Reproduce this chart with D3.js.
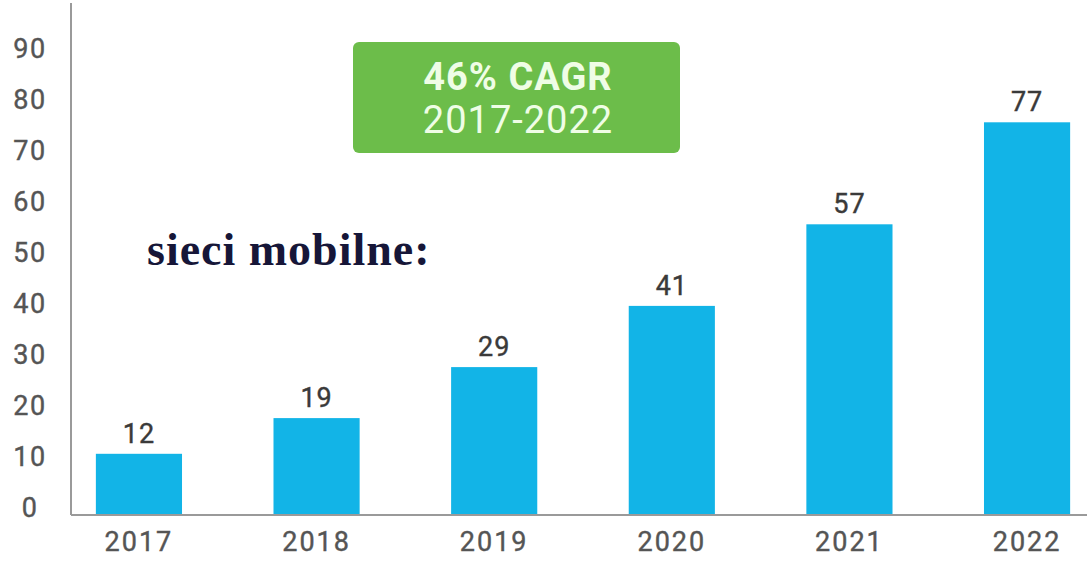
<!DOCTYPE html>
<html>
<head>
<meta charset="utf-8">
<script src="https://cdn.jsdelivr.net/npm/d3@7"></script>
<style>
  html, body { margin: 0; padding: 0; background: #fff; }
  svg { display: block; }
</style>
</head>
<body>
<svg id="chart" width="1087" height="562"></svg>
<script>
// Mobile network traffic by year
const years = ["2017", "2018", "2019", "2020", "2021", "2022"];
const values = [12, 19, 29, 41, 57, 77];
const yTicks = [0, 10, 20, 30, 40, 50, 60, 70, 80, 90];
const badgeLines = ["46% CAGR", "2017-2022"];
const seriesTitle = "sieci mobilne:";

const svg = d3.select("#chart");
const W = 1087, H = 562;
const axisX = 71, baseY = 515;

const x = d3.scaleBand()
  .domain(years)
  .range([axisX, 1095])
  .paddingInner(0.515)
  .paddingOuter(0.14);

const y = d3.scaleLinear()
  .domain([0, 90])
  .range([baseY, 56]);

const font = "Roboto, 'Open Sans', sans-serif";

// bars
svg.append("g").selectAll("rect")
  .data(values)
  .join("rect")
  .attr("x", (d, i) => x(years[i]))
  .attr("y", d => y(d))
  .attr("width", x.bandwidth())
  .attr("height", d => baseY - y(d))
  .attr("fill", "#12b4e7");

// value labels
svg.append("g").selectAll("text")
  .data(values)
  .join("text")
  .attr("x", (d, i) => x(years[i]) + x.bandwidth() / 2)
  .attr("y", d => y(d) - 11)
  .attr("text-anchor", "middle")
  .attr("font-family", font)
  .attr("font-size", 27)
  .attr("letter-spacing", 1)
  .attr("stroke", "#3a3a3a")
  .attr("stroke-width", 0.4)
  .attr("fill", "#3a3a3a")
  .text(d => d);

// y axis
const yAxis = d3.axisLeft(y).tickValues(yTicks).tickSize(0).tickPadding(0);
const gy = svg.append("g").attr("transform", `translate(${axisX},0)`).call(yAxis);
gy.select(".domain").remove();
gy.selectAll("text")
  .attr("x", -41)
  .attr("dy", "0.32em")
  .attr("transform", "translate(0,-7)")
  .attr("text-anchor", "middle")
  .attr("font-family", font)
  .attr("font-size", 27)
  .attr("letter-spacing", 1.5)
  .attr("stroke", "#555")
  .attr("stroke-width", 0.4)
  .attr("fill", "#555");
gy.append("line")
  .attr("x1", 0).attr("x2", 0)
  .attr("y1", 3).attr("y2", baseY)
  .attr("stroke", "#9a9a9a").attr("stroke-width", 2);

// x axis
const xAxis = d3.axisBottom(x).tickSize(0).tickPadding(0);
const gx = svg.append("g").attr("transform", `translate(0,${baseY})`).call(xAxis);
gx.select(".domain").remove();
gx.selectAll("text")
  .attr("y", 36)
  .attr("dy", 0)
  .attr("font-family", font)
  .attr("font-size", 27)
  .attr("letter-spacing", 2)
  .attr("stroke", "#555")
  .attr("stroke-width", 0.4)
  .attr("fill", "#555");
gx.append("line")
  .attr("x1", axisX).attr("x2", W)
  .attr("y1", 0).attr("y2", 0)
  .attr("stroke", "#9a9a9a").attr("stroke-width", 2);

// CAGR badge
const badge = svg.append("g");
badge.append("rect")
  .attr("x", 353).attr("y", 42)
  .attr("width", 327).attr("height", 111)
  .attr("rx", 6)
  .attr("fill", "#6cbd4a");
badge.selectAll("text")
  .data(badgeLines)
  .join("text")
  .attr("x", 518)
  .attr("y", (d, i) => i === 0 ? 90 : 133)
  .attr("text-anchor", "middle")
  .attr("font-family", font)
  .attr("font-size", 38)
  .attr("font-weight", (d, i) => i === 0 ? 700 : 400)
  .attr("letter-spacing", 1)
  .attr("fill", "#effde6")
  .text(d => d);

// series title
svg.append("text")
  .attr("x", 147).attr("y", 265)
  .attr("font-family", "'Liberation Serif', 'DejaVu Serif', serif")
  .attr("font-weight", 700)
  .attr("font-size", 46)
  .attr("letter-spacing", 1)
  .attr("fill", "#161638")
  .text(seriesTitle);
</script>
</body>
</html>
